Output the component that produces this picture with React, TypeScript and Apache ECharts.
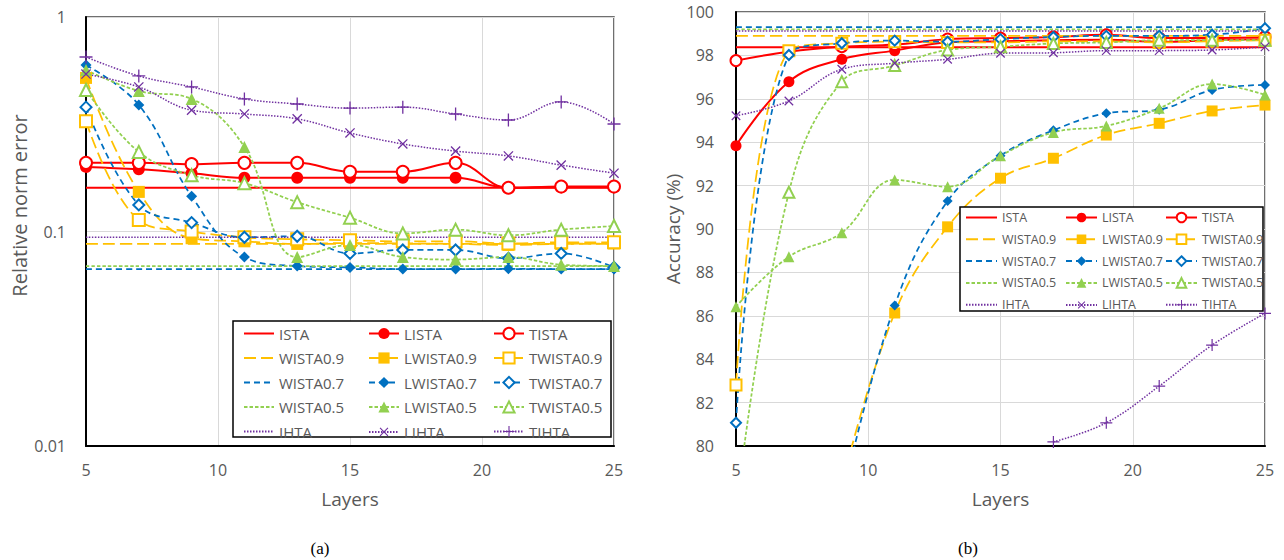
import React, { useEffect, useRef } from "react";
import * as echarts from "echarts";

// ---------- data ----------
const LAYERS = [5, 7, 9, 11, 13, 15, 17, 19, 21, 23, 25];
const X_TICKS = [5, 10, 15, 20, 25];
const Y_TICKS_A = [0.01, 0.1, 1];
const Y_TICKS_B = [80, 82, 84, 86, 88, 90, 92, 94, 96, 98, 100];

const NAMES = [
  "ISTA", "LISTA", "TISTA",
  "WISTA0.9", "LWISTA0.9", "TWISTA0.9",
  "WISTA0.7", "LWISTA0.7", "TWISTA0.7",
  "WISTA0.5", "LWISTA0.5", "TWISTA0.5",
  "IHTA", "LIHTA", "TIHTA",
];

// (a) relative norm error
const A_ISTA = [0.16, 0.16, 0.16, 0.16, 0.16, 0.16, 0.16, 0.16, 0.16, 0.16, 0.16];
const A_LISTA = [0.2, 0.195, 0.187, 0.178, 0.178, 0.178, 0.178, 0.178, 0.16, 0.161, 0.161];
const A_TISTA = [0.209, 0.209, 0.206, 0.209, 0.209, 0.19, 0.19, 0.209, 0.16, 0.162, 0.162];
const A_WISTA09 = [0.0875, 0.0875, 0.0875, 0.0875, 0.0875, 0.0875, 0.0875, 0.0875, 0.0875, 0.0875, 0.0875];
const A_LWISTA09 = [0.52, 0.153, 0.093, 0.09, 0.0875, 0.0884, 0.088, 0.0875, 0.0866, 0.0875, 0.088];
const A_TWISTA09 = [0.327, 0.113, 0.1, 0.094, 0.092, 0.091, 0.09, 0.09, 0.088, 0.089, 0.089];
const A_WISTA07 = [0.0668, 0.0668, 0.0668, 0.0668, 0.0668, 0.0668, 0.0668, 0.0668, 0.0668, 0.0668, 0.0668];
const A_LWISTA07 = [0.597, 0.389, 0.146, 0.076, 0.069, 0.068, 0.0668, 0.0668, 0.067, 0.0668, 0.0668];
const A_TWISTA07 = [0.38, 0.133, 0.11, 0.094, 0.095, 0.079, 0.082, 0.082, 0.075, 0.079, 0.068];
const A_WISTA05 = [0.069, 0.069, 0.069, 0.069, 0.069, 0.069, 0.069, 0.069, 0.069, 0.069, 0.069];
const A_LWISTA05 = [0.566, 0.452, 0.415, 0.248, 0.076, 0.0866, 0.076, 0.074, 0.076, 0.07, 0.069];
const A_TWISTA05 = [0.457, 0.235, 0.183, 0.168, 0.137, 0.116, 0.098, 0.102, 0.096, 0.102, 0.106];
const A_IHTA = [0.094, 0.094, 0.094, 0.094, 0.094, 0.094, 0.094, 0.094, 0.094, 0.094, 0.094];
const A_LIHTA = [0.542, 0.472, 0.368, 0.353, 0.335, 0.288, 0.256, 0.237, 0.225, 0.204, 0.187];
const A_TIHTA = [0.651, 0.531, 0.472, 0.415, 0.393, 0.376, 0.38, 0.353, 0.331, 0.402, 0.317];

// (b) accuracy (%)
const B_ISTA = [98.37, 98.37, 98.37, 98.37, 98.37, 98.37, 98.37, 98.37, 98.37, 98.37, 98.37];
const B_LISTA = [93.84, 96.79, 97.82, 98.22, 98.6, 98.65, 98.7, 98.72, 98.62, 98.7, 98.75];
const B_TISTA = [97.76, 98.17, 98.4, 98.5, 98.75, 98.8, 98.85, 98.95, 98.8, 98.8, 98.85];
const B_WISTA09 = [98.9, 98.9, 98.9, 98.9, 98.9, 98.9, 98.9, 98.9, 98.9, 98.9, 98.9];
const B_LWISTA09 = [null, null, 78.2, 86.13, 90.1, 92.34, 93.26, 94.33, 94.87, 95.44, 95.71];
const B_TWISTA09 = [82.81, 98.22, 98.56, 98.63, 98.6, 98.6, 98.65, 98.65, 98.6, 98.65, 98.7];
const B_WISTA07 = [99.3, 99.3, 99.3, 99.3, 99.3, 99.3, 99.3, 99.3, 99.3, 99.3, 99.3];
const B_LWISTA07 = [null, null, 77.5, 86.47, 91.29, 93.38, 94.55, 95.33, 95.5, 96.41, 96.64];
const B_TWISTA07 = [81.07, 98.02, 98.56, 98.68, 98.63, 98.75, 98.85, 98.9, 98.9, 98.95, 99.25];
const B_WISTA05 = [99.2, 99.2, 99.2, 99.2, 99.2, 99.2, 99.2, 99.2, 99.2, 99.2, 99.2];
const B_LWISTA05 = [86.42, 88.72, 89.83, 92.26, 91.95, 93.38, 94.45, 94.75, 95.56, 96.68, 96.18];
const B_TWISTA05 = [77, 91.69, 96.79, 97.53, 98.25, 98.4, 98.55, 98.6, 98.7, 98.7, 98.7];
const B_IHTA = [99.12, 99.12, 99.12, 99.12, 99.12, 99.12, 99.12, 99.12, 99.12, 99.12, 99.12];
const B_LIHTA = [95.22, 95.9, 97.36, 97.64, 97.82, 98.1, 98.12, 98.22, 98.22, 98.25, 98.39];
const B_TIHTA = [null, null, null, null, null, null, 80.19, 81.07, 82.76, 84.65, 86.11];

const DATA_A = [A_ISTA, A_LISTA, A_TISTA, A_WISTA09, A_LWISTA09, A_TWISTA09, A_WISTA07, A_LWISTA07, A_TWISTA07, A_WISTA05, A_LWISTA05, A_TWISTA05, A_IHTA, A_LIHTA, A_TIHTA];
const DATA_B = [B_ISTA, B_LISTA, B_TISTA, B_WISTA09, B_LWISTA09, B_TWISTA09, B_WISTA07, B_LWISTA07, B_TWISTA07, B_WISTA05, B_LWISTA05, B_TWISTA05, B_IHTA, B_LIHTA, B_TIHTA];

// ---------- styles ----------
const RED = "#FF0000";
const YEL = "#FFC000";
const BLU = "#0070C0";
const GRN = "#92D050";
const PUR = "#7030A0";
const PLUS = "path://M0,9H20V11H0Z M9,0H11V20H9Z";
const NONE = "path://M0,0L10,10";

const COLORS = [RED, RED, RED, YEL, YEL, YEL, BLU, BLU, BLU, GRN, GRN, GRN, PUR, PUR, PUR];
const DASH_09 = [12, 5];
const DASH_07 = [6, 4];
const DASH_05 = [3.5, 2];
const DOT = [1.5, 1.5];
const DASHES: any[] = ["solid", "solid", "solid", DASH_09, DASH_09, DASH_09, DASH_07, DASH_07, DASH_07, DASH_05, DASH_05, DASH_05, DOT, DOT, DOT];
const SYMBOLS = [NONE, "circle", "emptyCircle", NONE, "rect", "emptyRect", NONE, "diamond", "emptyDiamond", NONE, "triangle", "emptyTriangle", NONE, PLUS, PLUS];
const ROTATE = [0, 0, 0, 0, 0, 0, 0, 0, 0, 0, 0, 0, 0, 45, 0];

const GRAY = "#595959";
const FONT = "'Open Sans', 'Noto Sans', sans-serif";

function buildSeries(data: (number | null)[][], k: number, symSize: number) {
  return NAMES.map((name, i) => {
    const sym = SYMBOLS[i];
    const lineOnly = sym === NONE;
    const empty = sym.indexOf("empty") === 0;
    const isPath = sym === PLUS;
    const isDiamond = sym.toLowerCase().indexOf("diamond") >= 0;
    return {
      type: "line",
      name,
      xAxisIndex: k,
      yAxisIndex: k,
      data: LAYERS.map((x, j) => [x, data[i][j] == null ? "-" : data[i][j]]),
      smooth: 0.4,
      symbol: sym,
      showSymbol: !lineOnly,
      symbolSize: isPath ? symSize + 1 : isDiamond ? symSize - 1 : symSize,
      symbolRotate: ROTATE[i],
      lineStyle: {
        color: COLORS[i],
        width: COLORS[i] === RED ? 2 : COLORS[i] === PUR ? 1.5 : 1.75,
        type: DASHES[i],
      },
      itemStyle: {
        color: COLORS[i],
        borderColor: COLORS[i],
        borderWidth: empty ? 1.5 : 0,
      },
      emphasis: { disabled: true },
      clip: true,
      z: 2,
    };
  });
}

function buildLegends(k: number) {
  const cfg = k === 0
    ? { lefts: [243, 368, 493], top: 326, w: 30, h: 14, gap: 9.5, fs: 15 }
    : { lefts: [965, 1065, 1165], top: 211, w: 31, h: 12, gap: 8.8, fs: 12.5 };
  return [0, 1, 2].map((c) => ({
    orient: "vertical",
    left: cfg.lefts[c],
    top: cfg.top,
    padding: 0,
    itemWidth: cfg.w,
    itemHeight: cfg.h,
    itemGap: cfg.gap,
    selectedMode: false,
    textStyle: { color: GRAY, fontSize: cfg.fs, fontFamily: FONT },
    data: NAMES.map((n, i) => ({ n, i }))
      .filter((o) => o.i % 3 === c)
      .map((o) => (SYMBOLS[o.i] === NONE ? { name: o.n, itemStyle: { opacity: 0 } } : { name: o.n })),
    z: 5,
  }));
}

const axisLabel = (margin: number, fmt?: (v: number) => string) => ({
  color: GRAY,
  fontSize: 16,
  fontFamily: FONT,
  margin,
  formatter: fmt,
});

export default function App() {
  const ref = useRef<HTMLDivElement>(null);
  useEffect(() => {
    if (!ref.current) return;
    const chart = echarts.init(ref.current, undefined, { renderer: "svg" });
    const titleStyle = { color: GRAY, fontSize: 19, fontFamily: FONT };
    const xAxisBase = (k: number) => ({
      type: "value",
      gridIndex: k,
      min: X_TICKS[0],
      max: X_TICKS[X_TICKS.length - 1],
      interval: 5,
      name: "Layers",
      nameLocation: "middle",
      nameGap: 43,
      nameTextStyle: titleStyle,
      axisLine: { show: true, lineStyle: { color: "#000", width: 2 } },
      axisTick: { show: false },
      axisLabel: axisLabel(16),
      splitLine: { show: true, lineStyle: { color: "#D9D9D9", width: 1 } },
    });
    const option: any = {
      animation: false,
      backgroundColor: "#fff",
      grid: [
        { left: 86, top: 17, width: 528, height: 429, show: true, borderColor: "#404040", borderWidth: 1.5, backgroundColor: "transparent" },
        { left: 736, top: 12, width: 529, height: 434, show: true, borderColor: "#404040", borderWidth: 1.5, backgroundColor: "transparent" },
      ],
      xAxis: [xAxisBase(0), xAxisBase(1)],
      yAxis: [
        {
          type: "log",
          logBase: 10,
          gridIndex: 0,
          min: Y_TICKS_A[0],
          max: Y_TICKS_A[Y_TICKS_A.length - 1],
          name: "Relative norm error",
          nameLocation: "middle",
          nameGap: 57,
          nameTextStyle: { ...titleStyle, fontSize: 20, padding: [0, 0, 0, 52] },
          axisLine: { show: true, lineStyle: { color: "#000", width: 2 } },
          axisTick: { show: false },
          axisLabel: axisLabel(20, (v: number) => String(Number(v.toPrecision(1)))),
          splitLine: { show: true, lineStyle: { color: "#D9D9D9", width: 1 } },
          minorSplitLine: { show: false },
        },
        {
          type: "value",
          gridIndex: 1,
          min: Y_TICKS_B[0],
          max: Y_TICKS_B[Y_TICKS_B.length - 1],
          interval: 2,
          name: "Accuracy (%)",
          nameLocation: "middle",
          nameGap: 54,
          nameTextStyle: titleStyle,
          axisLine: { show: true, lineStyle: { color: "#000", width: 2 } },
          axisTick: { show: false },
          axisLabel: axisLabel(22),
          splitLine: { show: true, lineStyle: { color: "#D9D9D9", width: 1 } },
        },
      ],
      legend: [...buildLegends(0), ...buildLegends(1)],
      graphic: [
        { type: "rect", z: 3, shape: { x: 233, y: 321, width: 378, height: 116 }, style: { fill: "#fff", stroke: "#000", lineWidth: 1.5 } },
        { type: "rect", z: 3, shape: { x: 960, y: 207, width: 303, height: 104 }, style: { fill: "#fff", stroke: "#000", lineWidth: 1.5 } },
        { type: "text", x: 320, y: 548, style: { text: "(a)", fill: "#000", fontSize: 17, fontFamily: "'Liberation Serif', 'DejaVu Serif', serif", align: "center", verticalAlign: "middle" } },
        { type: "text", x: 968, y: 548, style: { text: "(b)", fill: "#000", fontSize: 17, fontFamily: "'Liberation Serif', 'DejaVu Serif', serif", align: "center", verticalAlign: "middle" } },
      ],
      series: [...buildSeries(DATA_A, 0, 12), ...buildSeries(DATA_B, 1, 11)],
    };
    chart.setOption(option);
    return () => chart.dispose();
  }, []);
  return (
    <div
      ref={ref}
      style={{ position: "fixed", left: 0, top: 0, width: 1284, height: 560, background: "#fff" }}
    />
  );
}
